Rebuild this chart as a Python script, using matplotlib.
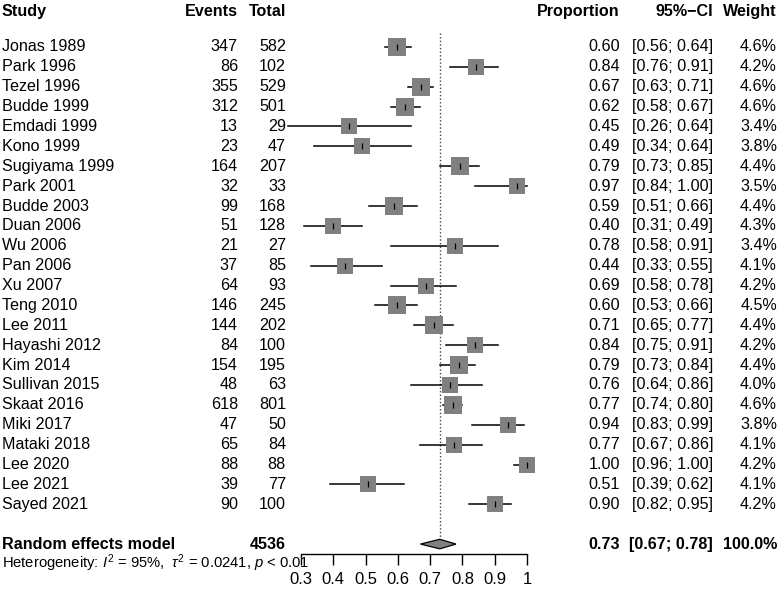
import matplotlib
matplotlib.use("Agg")
import matplotlib.pyplot as plt
from matplotlib.patches import Polygon
from matplotlib.transforms import blended_transform_factory

plt.rcParams["font.family"] = ["Liberation Sans", "DejaVu Sans"]
plt.rcParams["mathtext.fontset"] = "custom"
plt.rcParams["mathtext.rm"] = "Liberation Sans"
plt.rcParams["mathtext.it"] = "Liberation Sans:italic"

# データ
studies = ["Jonas 1989", "Park 1996", "Tezel 1996", "Budde 1999", "Emdadi 1999",
           "Kono 1999", "Sugiyama 1999", "Park 2001", "Budde 2003", "Duan 2006",
           "Wu 2006", "Pan 2006", "Xu 2007", "Teng 2010", "Lee 2011",
           "Hayashi 2012", "Kim 2014", "Sullivan 2015", "Skaat 2016", "Miki 2017",
           "Mataki 2018", "Lee 2020", "Lee 2021", "Sayed 2021"]
events = [347, 86, 355, 312, 13, 23, 164, 32, 99, 51, 21, 37, 64, 146, 144,
          84, 154, 48, 618, 47, 65, 88, 39, 90]
totals = [582, 102, 529, 501, 29, 47, 207, 33, 168, 128, 27, 85, 93, 245, 202,
          100, 195, 63, 801, 50, 84, 88, 77, 100]
prop = [0.60, 0.84, 0.67, 0.62, 0.45, 0.49, 0.79, 0.97, 0.59, 0.40, 0.78, 0.44,
        0.69, 0.60, 0.71, 0.84, 0.79, 0.76, 0.77, 0.94, 0.77, 1.00, 0.51, 0.90]
lower = [0.56, 0.76, 0.63, 0.58, 0.26, 0.34, 0.73, 0.84, 0.51, 0.31, 0.58, 0.33,
         0.58, 0.53, 0.65, 0.75, 0.73, 0.64, 0.74, 0.83, 0.67, 0.96, 0.39, 0.82]
upper = [0.64, 0.91, 0.71, 0.67, 0.64, 0.64, 0.85, 1.00, 0.66, 0.49, 0.91, 0.55,
         0.78, 0.66, 0.77, 0.91, 0.84, 0.86, 0.80, 0.99, 0.86, 1.00, 0.62, 0.95]
weight = [4.6, 4.2, 4.6, 4.6, 3.4, 3.8, 4.4, 3.5, 4.4, 4.3, 3.4, 4.1, 4.2, 4.5,
          4.4, 4.2, 4.4, 4.0, 4.6, 3.8, 4.1, 4.2, 4.1, 4.2]

pooled_n = 4536
pooled_est, pooled_lo, pooled_hi = 0.73, 0.67, 0.78
xticks = [0.3, 0.4, 0.5, 0.6, 0.7, 0.8, 0.9, 1.0]
xticklabels = ["0.3", "0.4", "0.5", "0.6", "0.7", "0.8", "0.9", "1"]

W, H = 780, 590
fig = plt.figure(figsize=(W / 100, H / 100), dpi=100)
ax = fig.add_axes([301 / W, (H - 554) / H, (527 - 301) / W, 554 / H])
ax.set_xlim(0.3, 1.0)
ax.set_ylim(25.5, -2.36)

n = len(studies)
rows = list(range(n))
pooled_row = 25

grey = "#808080"
for i in rows:
    ax.plot([lower[i], upper[i]], [i, i], color="black", lw=1.1, zorder=2, clip_on=False)
    ms = 12.6 * (weight[i] / 4.6) ** 0.5
    x = events[i] / totals[i]
    ax.plot(x, i, marker="s", ms=ms, color=grey, mec=grey, mew=0,
            zorder=3, clip_on=False)
    ax.plot(x, i, marker="|", ms=5, color="black", mew=0.9, zorder=4, clip_on=False)

# 点線と菱形
ax.plot([pooled_est, pooled_est], [-0.7, pooled_row], color="#444444", lw=1,
        ls=(0, (1, 1.6)), zorder=1, clip_on=False)
dh = 0.24
ax.add_patch(Polygon([[pooled_lo, pooled_row], [pooled_est, pooled_row - dh],
                      [pooled_hi, pooled_row], [pooled_est, pooled_row + dh]],
                     closed=True, fc=grey, ec="black", lw=0.9, zorder=3, clip_on=False))

for s in ["top", "left", "right"]:
    ax.spines[s].set_visible(False)
ax.spines["bottom"].set_linewidth(1)
ax.set_yticks([])
ax.set_xticks(xticks)
ax.set_xticklabels(xticklabels, fontsize=12)
ax.tick_params(axis="x", length=8, width=1, pad=5)

tr = blended_transform_factory(fig.transFigure, ax.transData)
fs = 11.6


def put(xpix, row, s, ha="left", bold=False, size=fs):
    fig.text(xpix / W, row, s, transform=tr, ha=ha, va="center", fontsize=size,
             fontweight="bold" if bold else "normal")


hrow = -1.76
put(2, hrow, "Study", bold=True)
put(238, hrow, "Events", ha="right", bold=True)
put(286, hrow, "Total", ha="right", bold=True)
put(620, hrow, "Proportion", ha="right", bold=True)
put(713, hrow, "95%\u2212CI", ha="right", bold=True)
put(777, hrow, "Weight", ha="right", bold=True)

for i in rows:
    put(2, i, studies[i])
    put(238, i, str(events[i]), ha="right")
    put(286, i, str(totals[i]), ha="right")
    put(620, i, f"{prop[i]:.2f}", ha="right")
    put(713, i, f"[{lower[i]:.2f}; {upper[i]:.2f}]", ha="right")
    put(777, i, f"{weight[i]:.1f}%", ha="right")

put(2, pooled_row, "Random effects model", bold=True)
put(286, pooled_row, str(pooled_n), ha="right", bold=True)
put(620, pooled_row, f"{pooled_est:.2f}", ha="right", bold=True)
put(713, pooled_row, f"[{pooled_lo:.2f}; {pooled_hi:.2f}]", ha="right", bold=True)
put(777, pooled_row, "100.0%", ha="right", bold=True)

fig.text(2 / W, (H - 563) / H,
         r"Heterogeneity: $I^2$ = 95%,  $\tau^2$ = 0.0241, $p$ < 0.01",
         ha="left", va="center", fontsize=10.6)

fig.savefig("out.png", dpi=100)
